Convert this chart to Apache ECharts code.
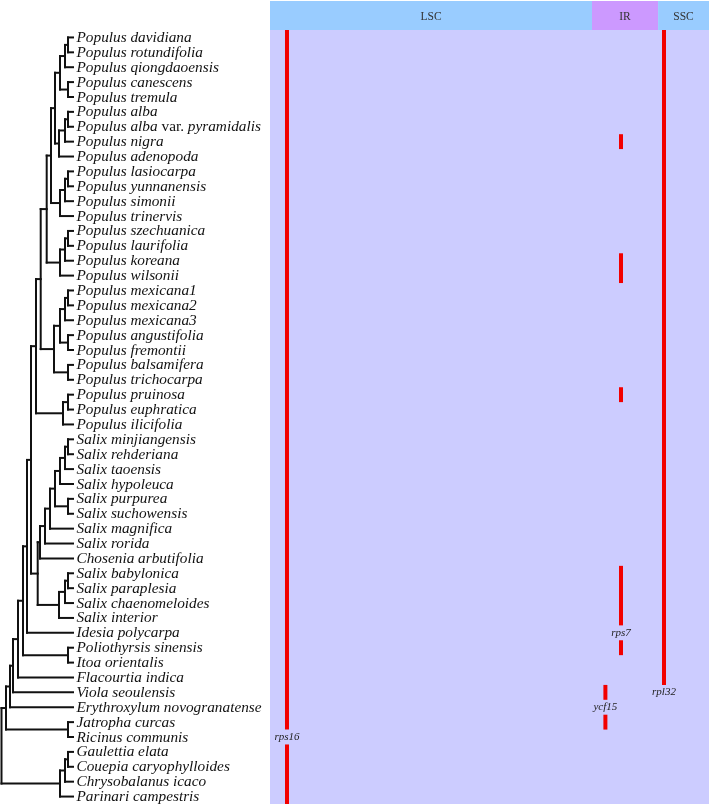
<!DOCTYPE html>
<html><head><meta charset="utf-8">
<script src="https://cdn.jsdelivr.net/npm/echarts@6/dist/echarts.min.js"></script>
<style>html,body{margin:0;padding:0;background:#fff}#c{width:709px;height:804px}</style>
</head><body><div id="c"></div>
<script>
// ---- species (rows, top to bottom) ----
const species = ['Populus davidiana','Populus rotundifolia','Populus qiongdaoensis','Populus canescens','Populus tremula','Populus alba','Populus alba var. pyramidalis','Populus nigra','Populus adenopoda','Populus lasiocarpa','Populus yunnanensis','Populus simonii','Populus trinervis','Populus szechuanica','Populus laurifolia','Populus koreana','Populus wilsonii','Populus mexicana1','Populus mexicana2','Populus mexicana3','Populus angustifolia','Populus fremontii','Populus balsamifera','Populus trichocarpa','Populus pruinosa','Populus euphratica','Populus ilicifolia','Salix minjiangensis','Salix rehderiana','Salix taoensis','Salix hypoleuca','Salix purpurea','Salix suchowensis','Salix magnifica','Salix rorida','Chosenia arbutifolia','Salix babylonica','Salix paraplesia','Salix chaenomeloides','Salix interior','Idesia polycarpa','Poliothyrsis sinensis','Itoa orientalis','Flacourtia indica','Viola seoulensis','Erythroxylum novogranatense','Jatropha curcas','Ricinus communis','Gaulettia elata','Couepia caryophylloides','Chrysobalanus icaco','Parinari campestris'];

// ---- tree: [node depth, child, child, ...]; leaves are row indices ----
const tipDepth = 73;
const cladeA = [60, [65, [68, 0, 1], 2], [68, 3, 4]];
const cladeB = [59, [65, [68, 5, 6], 7], 8];
const cladeC = [60, [65, [68, 9, 10], 11], 12];
const cladeD = [60, [65, [68, 13, 14], 15], 16];
const cladeE = [54, [60, [65, [68, 17, 18], 19], [68, 20, 21]], [68, 22, 23]];
const cladeF = [63, [68, 24, 25], 26];
const populus = [36, [40.7, [46.7, [51, [55, cladeA, cladeB], cladeC], cladeD], cladeE], cladeF];
const salix1 = [40, [45, [50, [55, [60, [65, [68, 27, 28], 29], 30], [68, 31, 32]], 33], 34], 35];
const salix2 = [59, [65, [68, 36, 37], 38], 39];
const chrysobalanaceae = [60, [65, [68, 48, 49], 50], 51];
const tree = [1.5, [6, [10, [13, [18, [23, [27, [31, populus, [37.7, salix1, salix2]], 40], [68, 41, 42]], 43], 44], 45], [68, 46, 47]], chrysobalanaceae];

// ---- plastome regions (relative position, %) ----
const regionNames = ['LSC', 'IR', 'SSC'];
const regionStart = [0, 73.35, 88.4];
const regionEnd = [73.35, 88.4, 100];
const regionColors = ['#99ccff', '#cc99ff', '#99ccff'];

// ---- genes: relative position and row segments (1-based rows) ----
const geneNames = ['rps16', 'ycf15', 'rps7', 'rpl32'];
const genePos = [3.87, 76.4, 79.95, 89.75];
const geneSegments = [
  [[1, 47], [49, 52]],
  [[45, 45], [47, 47]],
  [[8, 8], [16, 17], [25, 25], [37, 40], [42, 42]],
  [[1, 44]]
];
const geneLabelRow = [48, 46, 41, 45];

// ---- build tree segments ----
const treeSegs = [];
function walk(node, parentX) {
  if (typeof node === 'number') {
    if (parentX !== null) treeSegs.push([parentX, node, tipDepth, node]);
    return node;
  }
  const x = node[0];
  const ys = node.slice(1).map(ch => walk(ch, x));
  const y0 = Math.min(...ys), y1 = Math.max(...ys);
  treeSegs.push([x, y0, x, y1]);
  const y = (y0 + y1) / 2;
  if (parentX !== null) treeSegs.push([parentX, y, x, y]);
  return y;
}
walk(tree, null);

const barData = [];
geneSegments.forEach((segs, g) => segs.forEach(s => barData.push([genePos[g], s[0] - 1, s[1] - 1, g])));
const geneLabelData = geneNames.map((n, g) => [genePos[g], geneLabelRow[g] - 1, n]);
const regionData = regionNames.map((n, i) => [regionStart[i], regionEnd[i], n, i]);
const speciesData = species.map((s, i) => [tipDepth, i, s]);

const serif = '"Liberation Serif","Times New Roman",serif';
const chart = echarts.init(document.getElementById('c'), null, {renderer: 'canvas'});
chart.setOption({
  animation: false,
  grid: [
    {left: 0, top: 30, width: 270, bottom: 0},
    {left: 270, right: 0, top: 30, bottom: 0, show: true, backgroundColor: '#ccccff', borderWidth: 0},
    {left: 270, right: 0, top: 1, height: 29}
  ],
  xAxis: [
    {gridIndex: 0, type: 'value', min: 0, max: 270, show: false},
    {gridIndex: 1, type: 'value', min: 0, max: 100, show: false},
    {gridIndex: 2, type: 'value', min: 0, max: 100, show: false}
  ],
  yAxis: [
    {gridIndex: 0, type: 'value', min: -0.5, max: 51.5, inverse: true, show: false},
    {gridIndex: 1, type: 'value', min: -0.5, max: 51.5, inverse: true, show: false},
    {gridIndex: 2, type: 'value', min: 0, max: 1, show: false}
  ],
  series: [
    {
      type: 'custom', xAxisIndex: 0, yAxisIndex: 0, clip: false,
      encode: {x: [0, 2], y: [1, 3]},
      data: treeSegs,
      renderItem: (p, api) => {
        const a = api.coord([api.value(0), api.value(1)]);
        const b = api.coord([api.value(2), api.value(3)]);
        return {type: 'line', shape: {x1: a[0], y1: a[1], x2: b[0], y2: b[1]},
          style: {stroke: '#111', lineWidth: 2, lineCap: 'square'}};
      }
    },
    {
      type: 'custom', xAxisIndex: 0, yAxisIndex: 0, clip: false,
      encode: {x: 0, y: 1},
      data: speciesData,
      renderItem: (p, api) => {
        const c = api.coord([api.value(0), api.value(1)]);
        const name = speciesData[p.dataIndex][2];
        let text;
        if (name.indexOf(' var. ') >= 0) {
          const parts = name.split(' var. ');
          text = '{i|' + parts[0] + ' }{n|var.}{i| ' + parts[1] + '}';
        } else text = '{i|' + name + '}';
        return {type: 'text', x: c[0] + 3.5, y: c[1] + 0.5,
          style: {text: text, verticalAlign: 'middle', align: 'left',
            rich: {i: {fontFamily: serif, fontStyle: 'italic', fontSize: 15.3, fill: '#111'},
                   n: {fontFamily: serif, fontStyle: 'normal', fontSize: 15.3, fill: '#111'}}}};
      }
    },
    {
      type: 'custom', xAxisIndex: 1, yAxisIndex: 1, clip: false,
      encode: {x: 0, y: [1, 2]},
      data: barData,
      renderItem: (p, api) => {
        const a = api.coord([api.value(0), api.value(1) - 0.5]);
        const b = api.coord([api.value(0), api.value(2) + 0.5]);
        return {type: 'rect', shape: {x: a[0] - 2, y: a[1], width: 4, height: b[1] - a[1]},
          style: {fill: '#f20000'}};
      }
    },
    {
      type: 'custom', xAxisIndex: 1, yAxisIndex: 1, clip: false,
      encode: {x: 0, y: 1},
      data: geneLabelData,
      renderItem: (p, api) => {
        const c = api.coord([api.value(0), api.value(1)]);
        return {type: 'text', x: c[0], y: c[1],
          style: {text: geneLabelData[p.dataIndex][2], align: 'center', verticalAlign: 'middle',
            fontFamily: serif, fontStyle: 'italic', fontSize: 11, fill: '#222'}};
      }
    },
    {
      type: 'custom', xAxisIndex: 2, yAxisIndex: 2, clip: false,
      encode: {x: [0, 1]},
      data: regionData,
      renderItem: (p, api) => {
        const a = api.coord([api.value(0), 1]);
        const b = api.coord([api.value(1), 0]);
        const d = regionData[p.dataIndex];
        return {type: 'group', children: [
          {type: 'rect', shape: {x: a[0], y: a[1], width: b[0] - a[0], height: b[1] - a[1]},
            style: {fill: regionColors[d[3]]}},
          {type: 'text', x: (a[0] + b[0]) / 2, y: (a[1] + b[1]) / 2 + 1,
            style: {text: d[2], align: 'center', verticalAlign: 'middle',
              fontFamily: serif, fontSize: 11.5, fill: '#333'}}
        ]};
      }
    }
  ]
});
</script>
</body></html>
